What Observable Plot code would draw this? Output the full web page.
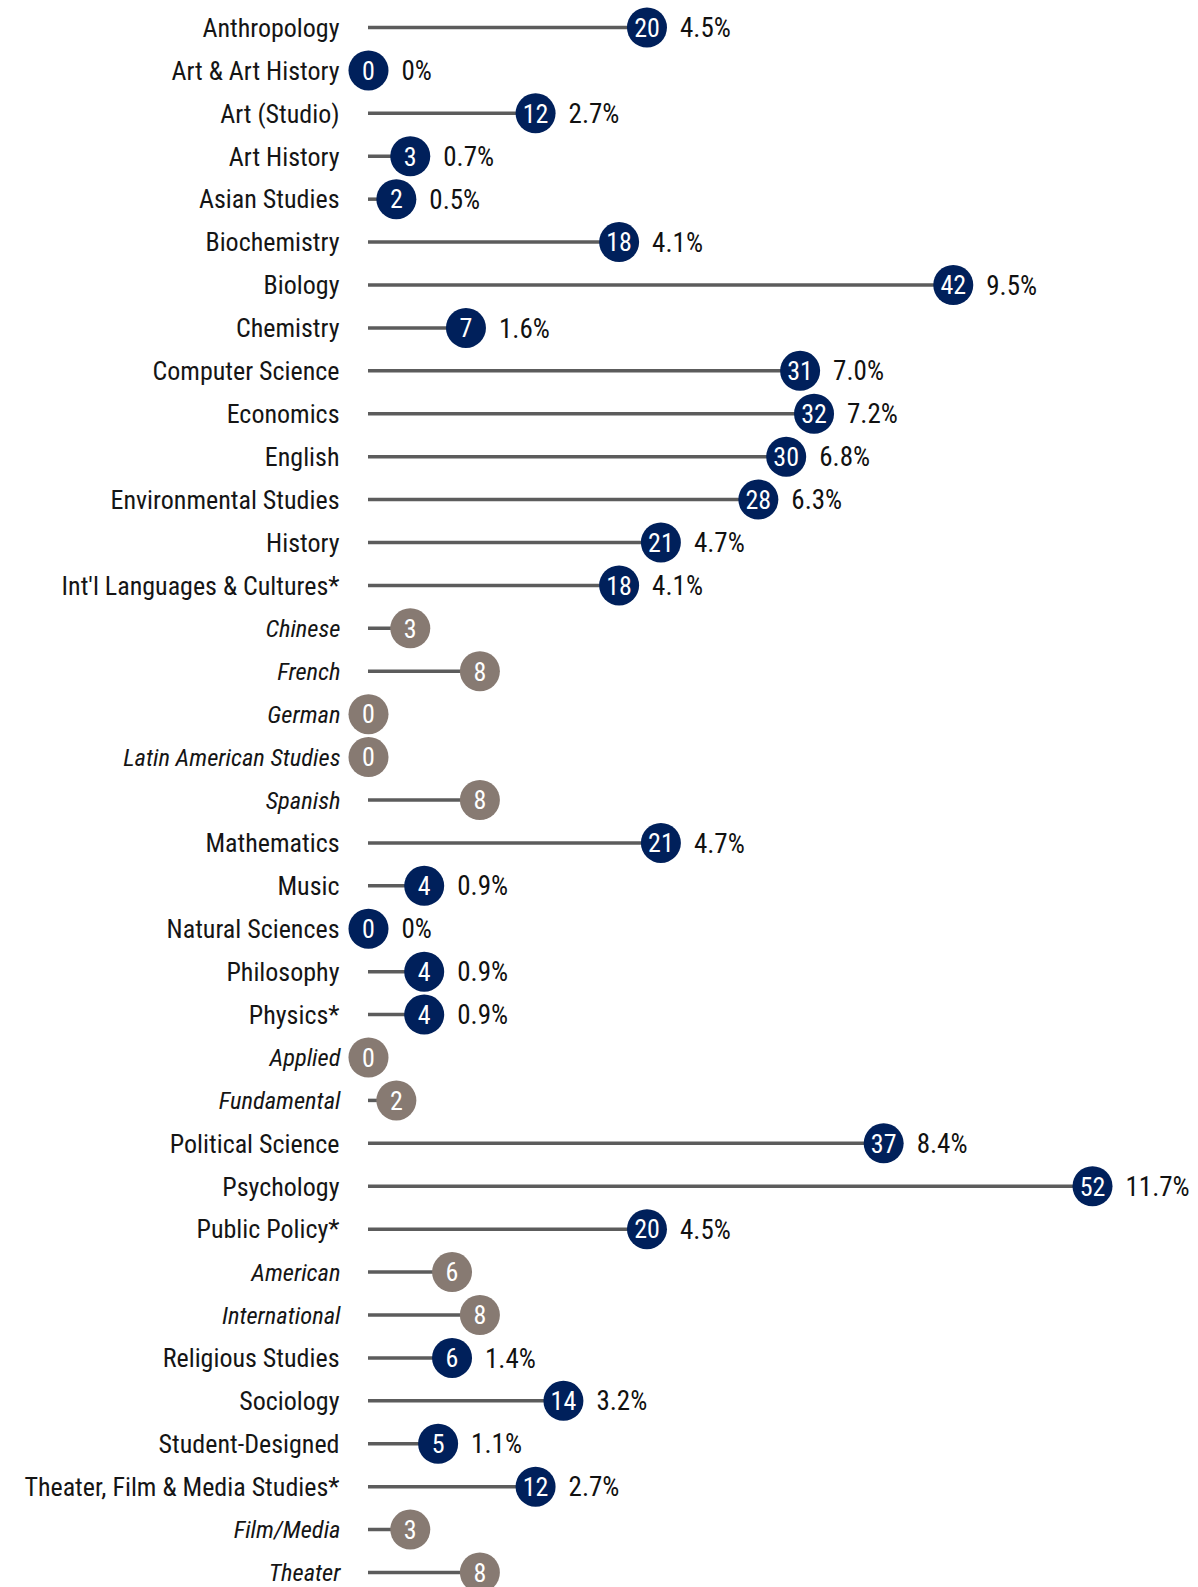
<!DOCTYPE html>
<html>
<head>
<meta charset="utf-8">
<script src="https://cdn.jsdelivr.net/npm/d3@7"></script>
<script src="https://cdn.jsdelivr.net/npm/@observablehq/plot@0.6"></script>
<style>
  html, body { margin: 0; padding: 0; background: #fff; }
  #chart { width: 1198px; height: 1587px; overflow: hidden; }
</style>
</head>
<body>
<div id="chart"></div>
<script>
const categories = [
  "Anthropology", "Art & Art History", "Art (Studio)", "Art History", "Asian Studies",
  "Biochemistry", "Biology", "Chemistry", "Computer Science", "Economics", "English",
  "Environmental Studies", "History", "Int'l Languages & Cultures*", "Chinese", "French",
  "German", "Latin American Studies", "Spanish", "Mathematics", "Music", "Natural Sciences",
  "Philosophy", "Physics*", "Applied", "Fundamental", "Political Science", "Psychology",
  "Public Policy*", "American", "International", "Religious Studies", "Sociology",
  "Student-Designed", "Theater, Film & Media Studies*", "Film/Media", "Theater"
];
const counts = [
  20, 0, 12, 3, 2, 18, 42, 7, 31, 32, 30, 28, 21, 18, 3, 8, 0, 0, 8, 21, 4, 0, 4, 4, 0, 2,
  37, 52, 20, 6, 8, 6, 14, 5, 12, 3, 8
];
const percents = [
  "4.5%", "0%", "2.7%", "0.7%", "0.5%", "4.1%", "9.5%", "1.6%", "7.0%", "7.2%", "6.8%",
  "6.3%", "4.7%", "4.1%", "", "", "", "", "", "4.7%", "0.9%", "0%", "0.9%", "0.9%", "", "",
  "8.4%", "11.7%", "4.5%", "", "", "1.4%", "3.2%", "1.1%", "2.7%", "", ""
];
const isSub = [
  false, false, false, false, false, false, false, false, false, false, false, false, false, false,
  true, true, true, true, true, false, false, false, false, false, true, true, false, false, false,
  true, true, false, false, false, false, true, true
];

const data = categories.map((c, i) => ({name: c, value: counts[i], pct: percents[i], sub: isSub[i]}));
const main = data.filter(d => !d.sub);
const subs = data.filter(d => d.sub);

const FONT = "'Roboto Condensed', 'Arial Narrow', sans-serif";
const NAVY = "#00205b";
const TAUPE = "#877a72";

const chart = Plot.plot({
  width: 1198,
  height: 1587,
  marginLeft: 368,
  marginRight: 106,
  marginTop: 27,
  marginBottom: 15,
  style: {fontFamily: FONT, background: "#fff", overflow: "visible"},
  x: {domain: [0, 52], axis: null},
  y: {type: "point", domain: categories, padding: 0, axis: null},
  marks: [
    Plot.ruleY(data, {y: "name", x1: 0, x2: "value", stroke: "#5c5c5c", strokeWidth: 3.5}),
    Plot.dot(main, {x: "value", y: "name", r: 20, fill: NAVY, stroke: null}),
    Plot.dot(subs, {x: "value", y: "name", r: 20, fill: TAUPE, stroke: null}),
    Plot.text(data, {x: "value", y: "name", text: d => String(d.value), fill: "#fff",
      fontSize: 26, fontFamily: FONT, dy: 1}),
    Plot.text(main, {x: "value", y: "name", text: "pct", textAnchor: "start", dx: 33,
      fill: "#111", fontSize: 27, fontFamily: FONT, dy: 1}),
    Plot.text(main, {x: 0, y: "name", text: "name", textAnchor: "end", dx: -29,
      fill: "#151515", fontSize: 26, fontFamily: FONT, dy: 1}),
    Plot.text(subs, {x: 0, y: "name", text: "name", textAnchor: "end", dx: -28,
      fill: "#151515", fontSize: 24.5, fontStyle: "italic", fontFamily: FONT, dy: 1})
  ]
});
document.getElementById("chart").appendChild(chart);
</script>
</body>
</html>
